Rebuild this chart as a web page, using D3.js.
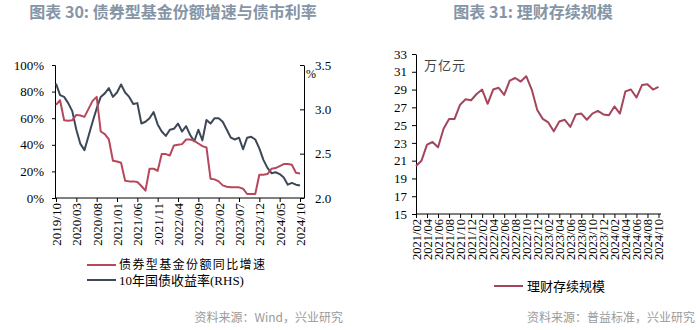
<!DOCTYPE html>
<html>
<head>
<meta charset="utf-8">
<script src="https://cdn.jsdelivr.net/npm/d3@7"></script>
<style>
  html, body { margin: 0; padding: 0; background: #fff; }
  svg { display: block; }
</style>
</head>
<body>
<svg id="chart" width="700" height="330"></svg>
<script>
// ---------- data: chart 30 (bond fund share growth vs 10Y yield) ----------
const fundStart = "2019/10", fundEnd = "2024/10";
const fundTickLabels = ["2019/10","2020/03","2020/08","2021/01","2021/06","2021/11",
  "2022/04","2022/09","2023/02","2023/07","2023/12","2024/05","2024/10"];
// bond fund share YoY growth, %
const fundGrowth = [70, 73.5, 58.5, 58, 58.5, 62.5, 62, 61, 67, 73, 76, 50, 48, 44, 28, 27.5,
  26.5, 13, 12.5, 12.5, 12, 9, 5.5, 22, 22, 20.5, 33, 33, 32, 39.5, 40, 40.5, 44, 44, 43, 41,
  39, 38, 14.5, 14, 12.5, 9.5, 8.5, 8, 8, 8, 7, 3, 3, 3, 17.5, 17.5, 18, 22, 22.5, 24, 25.5,
  25.5, 25, 19, 18.5];
// 10Y government bond yield, %
const bondYield = [3.29, 3.16, 3.14, 3.07, 2.98, 2.77, 2.61, 2.54, 2.70, 2.86, 3.01, 3.14,
  3.18, 3.24, 3.14, 3.19, 3.28, 3.19, 3.14, 3.06, 3.07, 2.84, 2.86, 2.90, 2.97, 2.83, 2.75,
  2.70, 2.77, 2.78, 2.84, 2.75, 2.81, 2.71, 2.64, 2.77, 2.65, 2.88, 2.84, 2.90, 2.90, 2.86,
  2.77, 2.68, 2.66, 2.68, 2.55, 2.68, 2.69, 2.66, 2.56, 2.43, 2.34, 2.28, 2.29, 2.27, 2.23,
  2.15, 2.17, 2.15, 2.14];
const leftTicks = [0, 20, 40, 60, 80, 100];
const rightTicks = [2.0, 2.5, 3.0, 3.5];

// ---------- data: chart 31 (wealth management outstanding) ----------
const wmStart = "2021/02", wmEnd = "2024/10";
const wmTickLabels = ["2021/02","2021/04","2021/06","2021/08","2021/10","2021/12",
  "2022/02","2022/04","2022/06","2022/08","2022/10","2022/12","2023/02","2023/04",
  "2023/06","2023/08","2023/10","2023/12","2024/02","2024/04","2024/06","2024/08","2024/10"];
// outstanding scale, trillion yuan
const wmScale = [20.4, 21.0, 22.8, 23.1, 22.5, 24.6, 25.7, 25.7, 27.3, 27.9, 27.8, 28.5, 29.0,
  27.4, 29.0, 29.2, 28.4, 30.0, 30.3, 29.9, 30.5, 29.0, 26.7, 25.7, 25.3, 24.3, 25.4, 25.6,
  24.8, 26.2, 26.3, 25.6, 26.3, 26.6, 26.2, 26.1, 27.1, 26.3, 28.8, 29.0, 28.1, 29.5, 29.6,
  29.0, 29.3];
const wmTicks = [15, 17, 19, 21, 23, 25, 27, 29, 31, 33];

// ---------- helpers ----------
function monthRange(a, b) {
  const p = s => { const [y, m] = s.split("/").map(Number); return new Date(y, m - 1, 1); };
  const fmt = d3.timeFormat("%Y/%m");
  return d3.timeMonth.range(p(a), d3.timeMonth.offset(p(b), 1)).map(fmt);
}
const fundMonths = monthRange(fundStart, fundEnd);
const wmMonths = monthRange(wmStart, wmEnd);

const SERIF = "'Liberation Serif', 'Times New Roman', serif";
const CJK = "'Noto Sans CJK SC', sans-serif";
const RED = "#b6485c";
const NAVY = "#3c4858";
const WM = "#a5455c";
const TITLE = "#8595a6";

const svg = d3.select("#chart");

function styleAxis(g) {
  g.selectAll("path.domain").attr("stroke", "#000").attr("stroke-width", 1);
  g.selectAll(".tick line").attr("stroke", "#000");
  g.selectAll("text").attr("fill", "#000").style("font-family", SERIF).style("font-size", "13px");
}
function rotateLabels(g) {
  g.selectAll(".tick text")
    .attr("transform", "rotate(-90)")
    .attr("x", -5).attr("y", 0).attr("dy", "0.35em")
    .style("text-anchor", "end");
}

// ---------- chart 30 ----------
{
  const L = 55, R = 304, T = 65, B = 198;
  const x = d3.scalePoint().domain(fundMonths).range([56, 300]);
  const yL = d3.scaleLinear().domain([0, 100]).range([B, T]);
  const yR = d3.scaleLinear().domain([2.0, 3.5]).range([B, T]);

  svg.append("text").attr("x", 173).attr("y", 18).attr("text-anchor", "middle")
    .attr("fill", TITLE).style("font-family", CJK).style("font-size", "16px").style("font-weight", "bold")
    .text("图表 30: 债券型基金份额增速与债市利率");

  svg.append("g").attr("transform", `translate(${L},0)`)
    .call(d3.axisLeft(yL).tickValues(leftTicks).tickFormat(d => d + "%").tickSize(3).tickPadding(8))
    .call(styleAxis);

  const gr = svg.append("g").attr("transform", `translate(${R},0)`)
    .call(d3.axisRight(yR).tickValues(rightTicks).tickFormat(d3.format(".1f")).tickSizeInner(-4).tickSizeOuter(0).tickPadding(11))
    .call(styleAxis);
  gr.append("text").attr("x", 2).attr("y", 78).attr("fill", "#000")
    .style("font-family", SERIF).style("font-size", "12px").style("text-anchor", "start").text("%");

  const gx = svg.append("g").attr("transform", `translate(0,${B})`)
    .call(d3.axisBottom(x).tickValues(fundTickLabels).tickSizeInner(4).tickSizeOuter(0))
    .call(styleAxis).call(rotateLabels);
  gx.select("path.domain").remove();
  gx.append("line").attr("x1", L).attr("x2", R).attr("stroke", "#000");

  const lineL = d3.line().x((d, i) => x(fundMonths[i])).y(d => yL(d));
  const lineR = d3.line().x((d, i) => x(fundMonths[i])).y(d => yR(d));
  svg.append("path").datum(bondYield).attr("d", lineR).attr("fill", "none")
    .attr("stroke", NAVY).attr("stroke-width", 2).attr("stroke-linejoin", "round");
  svg.append("path").datum(fundGrowth).attr("d", lineL).attr("fill", "none")
    .attr("stroke", RED).attr("stroke-width", 2).attr("stroke-linejoin", "round");

  const legend = [["债券型基金份额同比增速", RED], ["10年国债收益率(RHS)", NAVY]];
  legend.forEach(([name, c], i) => {
    const yy = 265 + i * 15;
    svg.append("line").attr("x1", 87).attr("x2", 116).attr("y1", yy).attr("y2", yy)
      .attr("stroke", c).attr("stroke-width", 2);
    svg.append("text").attr("x", 119).attr("y", yy).attr("dy", "0.35em").attr("fill", "#000")
      .style("font-family", i === 0 ? CJK : `${SERIF}, ${CJK}`)
      .style("font-size", i === 0 ? "12px" : "13px")
      .style("letter-spacing", i === 0 ? "1.4px" : "0px")
      .text(name);
  });

  svg.append("text").attr("x", 343).attr("y", 322).attr("text-anchor", "end")
    .attr("fill", "#9a9a9a").style("font-family", CJK).style("font-size", "12px")
    .text("资料来源：Wind，兴业研究");
}

// ---------- chart 31 ----------
{
  const L = 416, R = 661, T = 54, B = 214;
  const x = d3.scalePoint().domain(wmMonths).range([416, 658.5]);
  const y = d3.scaleLinear().domain([15, 33]).range([B, T]);

  svg.append("text").attr("x", 533).attr("y", 18).attr("text-anchor", "middle")
    .attr("fill", TITLE).style("font-family", CJK).style("font-size", "16px").style("font-weight", "bold")
    .text("图表 31: 理财存续规模");

  svg.append("g").attr("transform", `translate(${L},0)`)
    .call(d3.axisLeft(y).tickValues(wmTicks).tickSizeInner(4).tickSizeOuter(0).tickPadding(5))
    .call(styleAxis);

  const gx = svg.append("g").attr("transform", `translate(0,${B})`)
    .call(d3.axisBottom(x).tickValues(wmTickLabels).tickSizeInner(4).tickSizeOuter(0))
    .call(styleAxis).call(rotateLabels);
  gx.select("path.domain").remove();
  gx.append("line").attr("x1", L).attr("x2", R).attr("stroke", "#000");
  gx.selectAll(".tick text").style("font-size", "12.5px");

  svg.append("text").attr("x", 424).attr("y", 70).attr("fill", "#444")
    .style("font-family", CJK).style("font-size", "13px").style("letter-spacing", "1px")
    .text("万亿元");

  const line = d3.line().x((d, i) => x(wmMonths[i])).y(d => y(d));
  svg.append("path").datum(wmScale).attr("d", line).attr("fill", "none")
    .attr("stroke", WM).attr("stroke-width", 2).attr("stroke-linejoin", "round");

  svg.append("line").attr("x1", 494).attr("x2", 523).attr("y1", 286).attr("y2", 286)
    .attr("stroke", WM).attr("stroke-width", 2);
  svg.append("text").attr("x", 527).attr("y", 286).attr("dy", "0.35em").attr("fill", "#000")
    .style("font-family", CJK).style("font-size", "13px").text("理财存续规模");

  svg.append("text").attr("x", 695).attr("y", 322).attr("text-anchor", "end")
    .attr("fill", "#9a9a9a").style("font-family", CJK).style("font-size", "12px")
    .text("资料来源：普益标准，兴业研究");
}
</script>
</body>
</html>
